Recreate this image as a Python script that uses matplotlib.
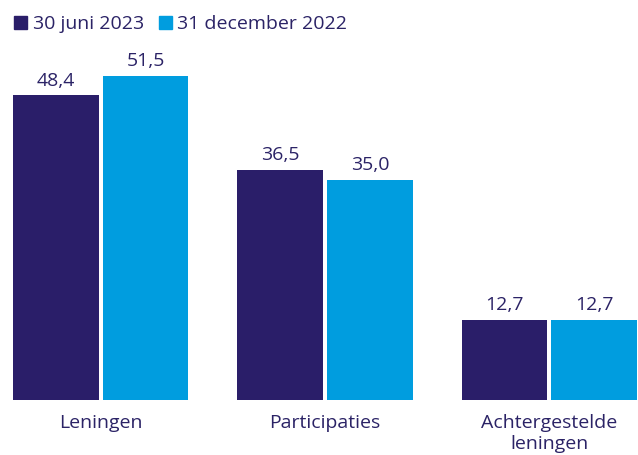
import matplotlib
matplotlib.use("Agg")
import matplotlib.pyplot as plt
import numpy as np
from matplotlib.patches import Patch

categories = ["Leningen", "Participaties", "Achtergestelde\nleningen"]
series_names = ["30 juni 2023", "31 december 2022"]
values_2023 = [48.4, 36.5, 12.7]
values_2022 = [51.5, 35.0, 12.7]
labels_2023 = ["48,4", "36,5", "12,7"]
labels_2022 = ["51,5", "35,0", "12,7"]

navy = "#2a1e69"
blue = "#009ddf"
text_c = "#2b2366"

plt.rcParams['font.family'] = ['Open Sans', 'DejaVu Sans']
FS = 14

W, H = 638, 455
fig = plt.figure(figsize=(W/100, H/100), dpi=100)
ax_left, ax_right = 13, 637
ax_bottom, ax_top = 400, 60
ax = fig.add_axes([ax_left/W, (H-ax_bottom)/H, (ax_right-ax_left)/W, (ax_bottom-ax_top)/H])

x = np.arange(len(categories))
w = 0.382
off = 0.2
b1 = ax.bar(x - off, values_2023, w, color=navy)
b2 = ax.bar(x + off, values_2022, w, color=blue)
ax.bar_label(b1, labels=labels_2023, padding=4, fontsize=FS, color=text_c)
ax.bar_label(b2, labels=labels_2022, padding=4, fontsize=FS, color=text_c)

ax.set_xlim(-0.391, 2.391)
ax.set_ylim(0, 340/6.3)
ax.set_xticks(x)
ax.set_xticklabels(categories, fontsize=FS, color=text_c, linespacing=1.25)
ax.tick_params(axis='x', length=0, pad=10)
ax.set_yticks([])
for s in ax.spines.values():
    s.set_visible(False)

handles = [Patch(color=navy), Patch(color=blue)]
fig.legend(handles, series_names, loc='upper left', bbox_to_anchor=(14/W, 1 - 15/H),
           ncol=2, frameon=False, fontsize=FS, labelcolor=text_c,
           handlelength=0.67, handleheight=0.67, handletextpad=0.3,
           columnspacing=0.75, borderaxespad=0.0, borderpad=0.0)

fig.savefig("out.png", dpi=100)
